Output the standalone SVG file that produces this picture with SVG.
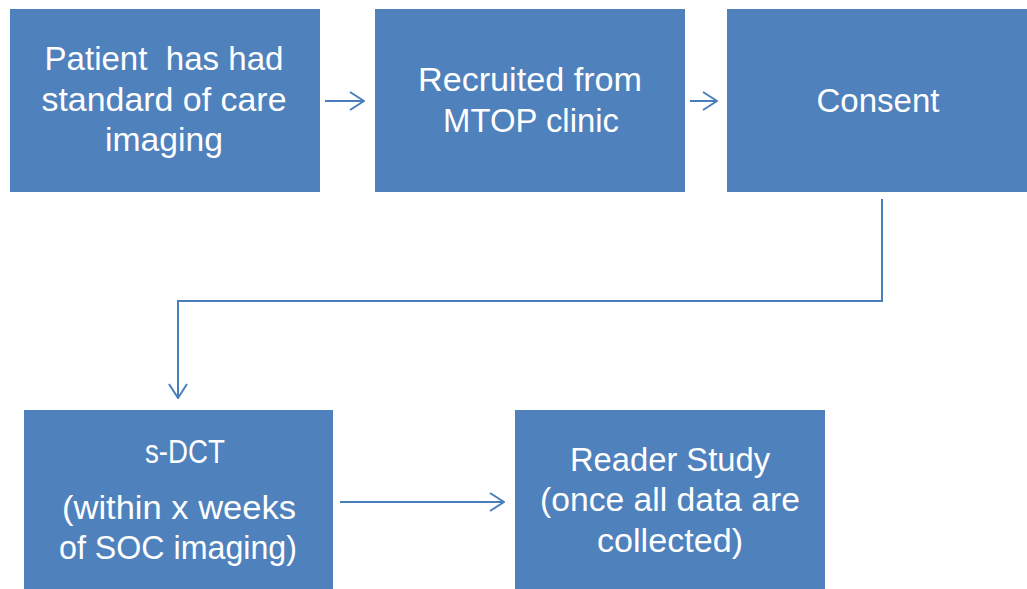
<svg xmlns="http://www.w3.org/2000/svg" width="1027" height="589" viewBox="0 0 1027 589">
<defs>
<style>
.box{fill:#4F81BD;}
.t{font-family:"Liberation Sans","Open Sans",sans-serif;font-size:33px;fill:#FFFFFF;text-anchor:middle;}
.c{fill:none;stroke:#4A7EBB;stroke-width:2;}
</style>
<marker id="ah" markerWidth="16" markerHeight="20" viewBox="0 0 16 20" refX="15" refY="10" orient="auto" markerUnits="userSpaceOnUse">
<path d="M1 1 L15 10 L1 19" fill="none" stroke="#4A7EBB" stroke-width="2"/>
</marker>
</defs>
<rect width="1027" height="589" fill="#FFFFFF"/>
<g id="node1">
<rect class="box" x="10" y="9" width="310" height="183"/>
<text class="t" x="164" y="70" textLength="239" lengthAdjust="spacingAndGlyphs" xml:space="preserve">Patient  has had</text>
<text class="t" x="164" y="111" textLength="245" lengthAdjust="spacingAndGlyphs">standard of care</text>
<text class="t" x="164" y="151" textLength="118" lengthAdjust="spacingAndGlyphs">imaging</text>
</g>
<g id="node2">
<rect class="box" x="375" y="9" width="310" height="183"/>
<text class="t" x="530" y="91" textLength="224" lengthAdjust="spacingAndGlyphs">Recruited from</text>
<text class="t" x="531" y="132" textLength="176" lengthAdjust="spacingAndGlyphs">MTOP clinic</text>
</g>
<g id="node3">
<rect class="box" x="727" y="9" width="300" height="183"/>
<text class="t" x="878" y="112" textLength="123" lengthAdjust="spacingAndGlyphs">Consent</text>
</g>
<g id="node4">
<rect class="box" x="24" y="410" width="309" height="179"/>
<text class="t" x="185" y="463" textLength="80" lengthAdjust="spacingAndGlyphs">s-DCT</text>
<text class="t" x="179" y="519" textLength="234" lengthAdjust="spacingAndGlyphs">(within x weeks</text>
<text class="t" x="178" y="559" textLength="238" lengthAdjust="spacingAndGlyphs">of SOC imaging)</text>
</g>
<g id="node5">
<rect class="box" x="515" y="410" width="310" height="179"/>
<text class="t" x="670" y="471" textLength="200" lengthAdjust="spacingAndGlyphs">Reader Study</text>
<text class="t" x="670" y="511" textLength="260" lengthAdjust="spacingAndGlyphs">(once all data are</text>
<text class="t" x="670" y="552" textLength="146" lengthAdjust="spacingAndGlyphs">collected)</text>
</g>
<g id="connectors">
<path class="c" d="M325 101 H364" marker-end="url(#ah)"/>
<path class="c" d="M690 101 H717" marker-end="url(#ah)"/>
<path class="c" d="M882 199 V301 H178 V398" marker-end="url(#ah)"/>
<path class="c" d="M340 502 H504" marker-end="url(#ah)"/>
</g>
</svg>
